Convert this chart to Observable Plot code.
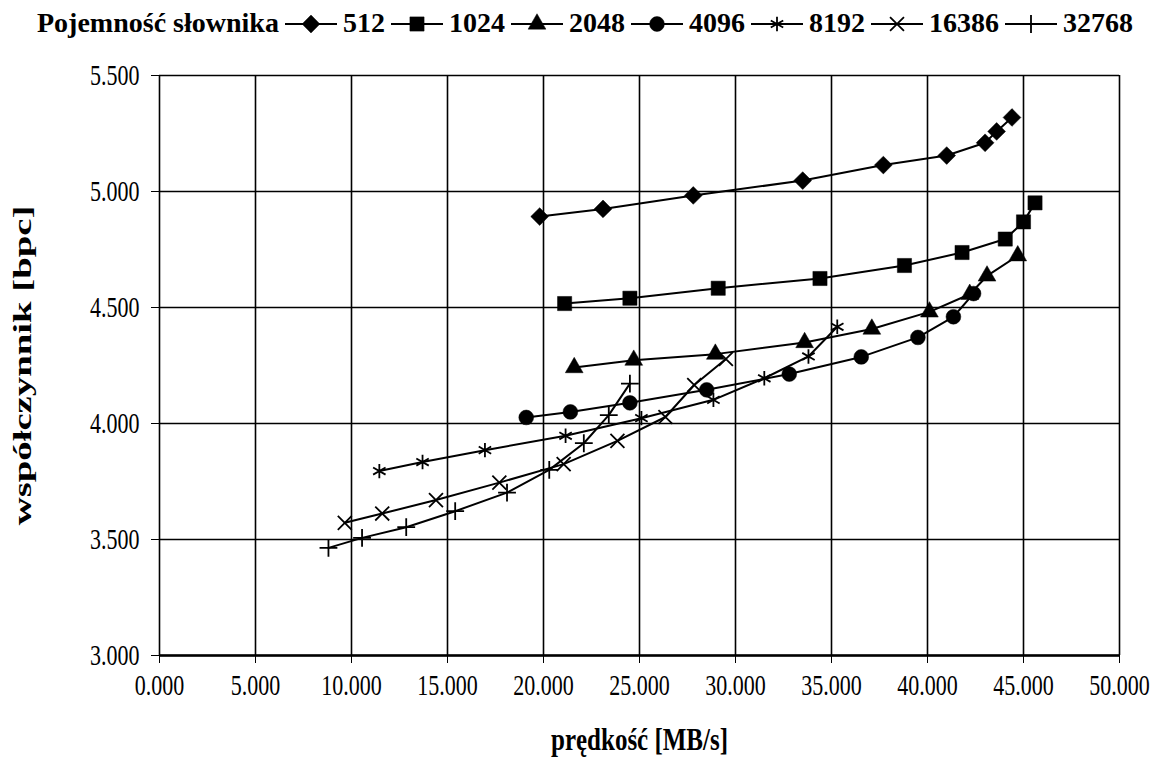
<!DOCTYPE html>
<html>
<head>
<meta charset="utf-8">
<script src="https://cdn.jsdelivr.net/npm/d3@7"></script>
<script src="https://cdn.jsdelivr.net/npm/@observablehq/plot@0.6"></script>
<style>
  body { margin: 0; background: #fff; font-family: "Liberation Serif", "Times New Roman", serif; }
  #legend { height: 45px; display: flex; align-items: center; font-weight: bold; font-size: 28px; padding-left: 37px; box-sizing: border-box; white-space: nowrap; }
  #legend .title { margin-right: 0px; }
  #legend .item { display: flex; align-items: center; }
  #legend svg { display: block; margin: 0 5px; }
  #chart svg { display: block; }
</style>
</head>
<body>
<div id="legend"></div>
<div id="chart"></div>
<script>
// ---- data ----
const legendTitle = "Pojemność słownika";
const seriesNames = ["512", "1024", "2048", "4096", "8192", "16386", "32768"];

const x512 = [19.8, 23.1, 27.8, 33.5, 37.7, 41.0, 43.0, 43.6, 44.4];
const y512 = [4.892, 4.925, 4.983, 5.047, 5.114, 5.155, 5.210, 5.259, 5.319];

const x1024 = [21.1, 24.5, 29.1, 34.4, 38.8, 41.8, 44.05, 45.0, 45.6];
const y1024 = [4.517, 4.540, 4.583, 4.625, 4.681, 4.737, 4.795, 4.869, 4.951];

const x2048 = [21.6, 24.7, 28.95, 33.6, 37.1, 40.1, 42.2, 43.1, 44.7];
const y2048 = [4.241, 4.273, 4.299, 4.349, 4.407, 4.481, 4.557, 4.636, 4.723];

const x4096 = [19.1, 21.4, 24.5, 28.5, 32.8, 36.55, 39.5, 41.35, 42.4];
const y4096 = [4.026, 4.050, 4.089, 4.145, 4.213, 4.287, 4.371, 4.460, 4.560];

const x8192 = [11.45, 13.7, 16.95, 21.15, 25.1, 28.85, 31.5, 33.8, 35.3];
const y8192 = [3.795, 3.834, 3.885, 3.947, 4.023, 4.102, 4.195, 4.289, 4.417];

const x16386 = [9.65, 11.6, 14.4, 17.7, 21.05, 23.85, 26.35, 27.85, 29.5];
const y16386 = [3.572, 3.612, 3.670, 3.745, 3.825, 3.925, 4.028, 4.166, 4.278];

const x32768 = [8.8, 10.55, 12.85, 15.4, 18.1, 20.3, 22.1, 23.4, 24.5];
const y32768 = [3.464, 3.507, 3.553, 3.622, 3.702, 3.800, 3.915, 4.036, 4.172];

const xTicks = [0, 5, 10, 15, 20, 25, 30, 35, 40, 45, 50];
const yTicks = [3.0, 3.5, 4.0, 4.5, 5.0, 5.5];
const xLabel = "prędkość [MB/s]";
const yLabel = "współczynnik [bpc]";

// ---- build ----
const xsAll = [x512, x1024, x2048, x4096, x8192, x16386, x32768];
const ysAll = [y512, y1024, y2048, y4096, y8192, y16386, y32768];
const symbols = ["diamond2", "square", "triangle", "circle", "asterisk", "times", "plus"];
const radii = [8, 8, 6.6, 7.4, 6.8, 6.4, 5.8];
const filled = [true, true, true, true, false, false, false];

const series = seriesNames.map((name, i) => ({
  name,
  symbol: symbols[i],
  r: radii[i],
  filled: filled[i],
  data: xsAll[i].map((x, j) => ({x, y: ysAll[i][j], s: name}))
}));

const font = '"Liberation Serif", "Times New Roman", serif';
const fmt = d3.format(".3f");

const marks = [
  Plot.gridX(xTicks, {stroke: "black", strokeOpacity: 1, strokeWidth: 1.6}),
  Plot.gridY(yTicks, {stroke: "black", strokeOpacity: 1, strokeWidth: 1.6}),
  Plot.axisX({ticks: xTicks, tickFormat: fmt, tickSize: 8, tickPadding: 14, label: null, fontSize: 22, className: "stretch"}),
  Plot.axisY({ticks: yTicks, tickFormat: fmt, tickSize: 8, tickPadding: 12, label: null, fontSize: 22, className: "stretch"}),
  Plot.ruleY([3.0], {stroke: "black", strokeWidth: 2.5}),
  Plot.text([xLabel], {frameAnchor: "bottom", dy: 92, fontSize: 25, fontWeight: "bold", fill: "black", className: "stretch"}),
  Plot.text([yLabel], {frameAnchor: "left", textAnchor: "middle", dx: -137, rotate: -90, fontSize: 25, fontWeight: "bold", fill: "black", className: "ylab"})
];
for (const s of series) {
  marks.push(Plot.line(s.data, {x: "x", y: "y", stroke: "black", strokeWidth: 2}));
  marks.push(Plot.dot(s.data, {
    x: "x", y: "y", symbol: () => s.symbol, r: s.r,
    fill: s.filled ? "black" : "none", stroke: "black", strokeWidth: s.filled ? 0.5 : 1.8
  }));
}

const chart = Plot.plot({
  width: 1164,
  height: 725,
  marginTop: 30,
  marginLeft: 159,
  marginRight: 45,
  marginBottom: 115,
  style: {fontFamily: font, fontSize: "22px", color: "black", background: "white"},
  x: {domain: [0, 50]},
  y: {domain: [3.0, 5.5]},
  symbol: {type: "identity"},
  marks
});
document.getElementById("chart").appendChild(chart);

// Vertical stretch of text glyphs (the reference text is drawn tall and narrow)
const K = 1.3;
chart.querySelectorAll(".stretch text").forEach(t => {
  const b = t.getBBox();
  const cx = b.x + b.width / 2, cy = b.y + b.height / 2;
  const tr = t.getAttribute("transform") || "";
  t.setAttribute("transform", `${tr} translate(${cx},${cy}) scale(1,${K}) translate(${-cx},${-cy})`);
});
chart.querySelectorAll(".ylab text").forEach(t => {
  const b = t.getBBox();
  const cx = b.x + b.width / 2, cy = b.y + b.height / 2;
  const tr = t.getAttribute("transform") || "";
  t.setAttribute("transform", `${tr} translate(${cx},${cy}) scale(1.55,1) translate(${-cx},${-cy})`);
});

// ---- legend ----
const legend = d3.select("#legend");
legend.append("span").attr("class", "title").text(legendTitle);
const symMap = {diamond2: d3.symbolDiamond2, square: d3.symbolSquare, triangle: d3.symbolTriangle,
  circle: d3.symbolCircle, asterisk: d3.symbolAsterisk, times: d3.symbolTimes, plus: d3.symbolPlus};
for (const s of series) {
  const item = legend.append("span").attr("class", "item");
  const svg = item.append("svg").attr("width", 54).attr("height", 26);
  svg.append("line").attr("x1", 1).attr("x2", 53).attr("y1", 14).attr("y2", 14)
    .attr("stroke", "black").attr("stroke-width", 2);
  svg.append("path")
    .attr("transform", "translate(27,14)")
    .attr("d", d3.symbol(symMap[s.symbol], Math.PI * s.r * s.r)())
    .attr("fill", s.filled ? "black" : "none")
    .attr("stroke", "black")
    .attr("stroke-width", s.filled ? 0.5 : 1.8);
  item.append("span").text(s.name);
}
</script>
</body>
</html>
